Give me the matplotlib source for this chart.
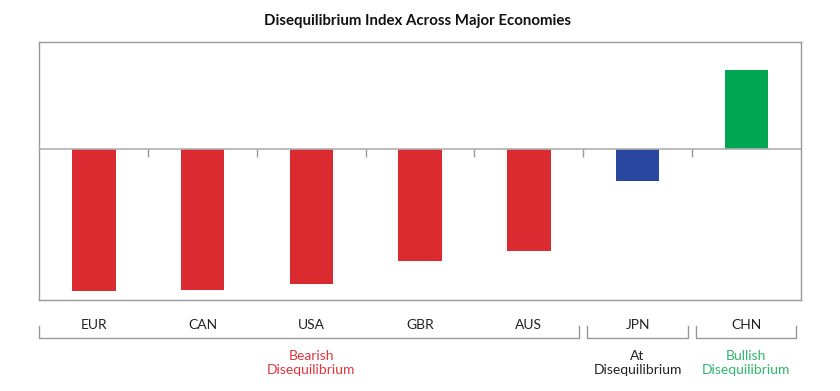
import matplotlib
matplotlib.use("Agg")
import matplotlib.pyplot as plt
import matplotlib.transforms as mtransforms

plt.rcParams['font.family'] = ['Lato', 'DejaVu Sans']

# data (index units, arbitrary scale)
countries = ['EUR', 'CAN', 'USA', 'GBR', 'AUS', 'JPN', 'CHN']
values = [-1.42, -1.41, -1.35, -1.12, -1.02, -0.32, 0.79]
bar_colors = ['#d92b30'] * 5 + ['#2946a0', '#00a651']

groups = ['Bearish\nDisequilibrium', 'At\nDisequilibrium', 'Bullish\nDisequilibrium']
group_first = [0, 5, 6]
group_last = [4, 5, 6]
group_colors = ['#e0353b', '#222222', '#2db86b']

fig = plt.figure(figsize=(8.4, 3.91), dpi=100)
ax = fig.add_axes([0.047, 0.2327, 0.9062, 0.6591])

x = list(range(len(countries)))
ax.bar(x, values, width=0.4, color=bar_colors, zorder=2)
ax.axhline(0, color='#b0b0b0', lw=1.2, zorder=3)
# small ticks on the zero line between categories
ax.vlines([i + 0.5 for i in range(len(countries) - 1)], -0.075, 0,
          color='#999999', lw=1, zorder=3)

ax.set_xlim(-0.5, len(countries) - 0.5)
ax.set_ylim(-1.507, 1.07)
ax.set_xticks([])
ax.set_yticks([])
for s in ax.spines.values():
    s.set_color('#999999')
    s.set_linewidth(1)

trans = mtransforms.blended_transform_factory(ax.transData, fig.transFigure)

for i, c in enumerate(countries):
    ax.text(i, 0.169, c, transform=trans, ha='center', va='center',
            fontsize=10, color='#222222')

y_bot, y_top = 0.1348, 0.167
for k, g in enumerate(groups):
    x0 = group_first[k] - 0.5 + (0.0 if k == 0 else 0.035)
    x1 = group_last[k] + 0.5 - 0.04
    ax.plot([x0, x0, x1, x1], [y_top, y_bot, y_bot, y_top], transform=trans,
            color='#999999', lw=1, clip_on=False)
    xc = (group_first[k] + group_last[k]) / 2
    ax.text(xc, 0.072, g, transform=trans, ha='center', va='center',
            fontsize=10, color=group_colors[k], linespacing=1.15)

fig.text(0.497, 0.946, 'Disequilibrium Index Across Major Economies',
         ha='center', va='center', fontsize=10.8, fontweight='bold', color='#111111')

fig.savefig('out.png', dpi=100)
